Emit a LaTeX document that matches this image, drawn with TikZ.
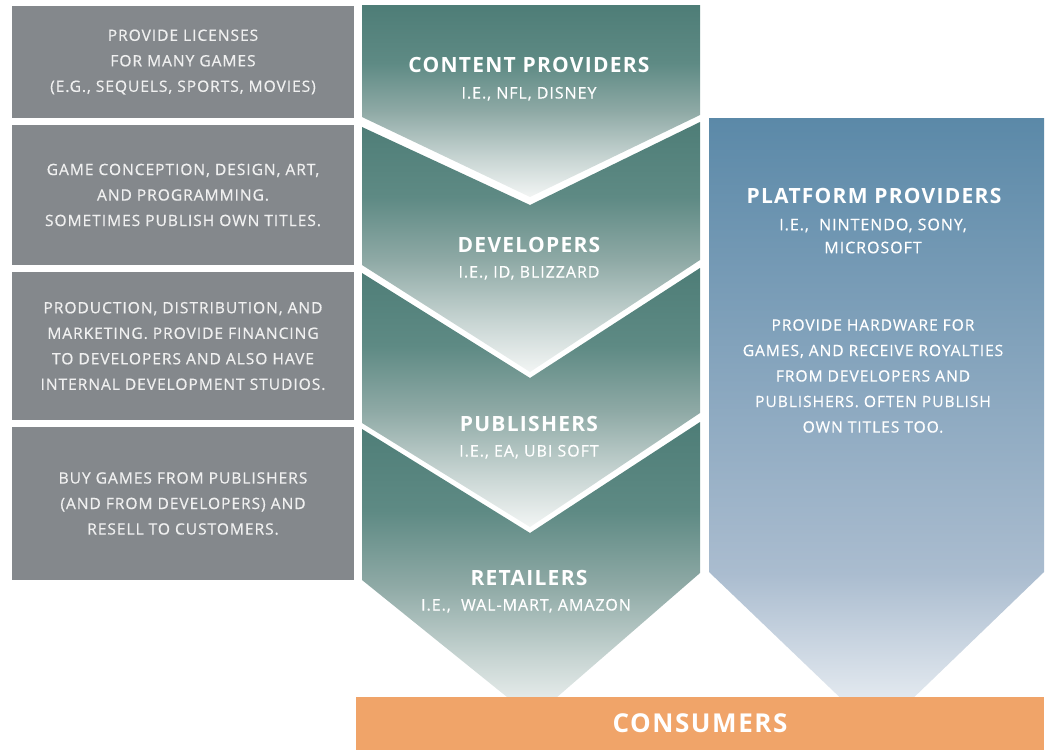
\documentclass[tikz,border=0pt]{standalone}
\usepackage{fontspec}
\setmainfont{Open Sans}
\newfontfamily\spacedfont[LetterSpace=6]{Open Sans}
\newfontfamily\mediumfont[LetterSpace=6,FakeBold=0.5]{Open Sans}

% colours
\definecolor{boxgray}{HTML}{84888C}
\definecolor{boxtext}{HTML}{F0F0F0}
\definecolor{tealD}{HTML}{4E7D77}
\definecolor{tealA}{HTML}{5E8A84}
\definecolor{tealM}{HTML}{8EA9A5}
\definecolor{tealB}{HTML}{C8D5D3}
\definecolor{tealL}{HTML}{F2F5F4}
\definecolor{blueD}{HTML}{5B89A8}
\definecolor{blueM}{HTML}{AABCCF}
\definecolor{blueL}{HTML}{F2F5F8}
\definecolor{orangeC}{HTML}{F0A469}

% vertical fades: 25bp = bottom of the shape, 75bp = top
\pgfdeclareverticalshading{tealfade}{100bp}{color(0bp)=(tealL); color(25bp)=(tealL); color(35bp)=(tealB); color(47.5bp)=(tealM); color(60bp)=(tealA); color(75bp)=(tealD); color(100bp)=(tealD)}
\pgfdeclareverticalshading{bluefade}{100bp}{color(0bp)=(blueL); color(25bp)=(blueL); color(38bp)=(blueM); color(75bp)=(blueD); color(100bp)=(blueD)}

\newcommand{\bodyfont}{\mediumfont\fontsize{15.6}{25.5}\selectfont}
\newcommand{\titlefont}{\spacedfont\bfseries\fontsize{21}{25}\selectfont}
\newcommand{\subfont}{\mediumfont\fontsize{16}{23}\selectfont}

\tikzset{
  sidebox/.style={fill=boxgray, text=boxtext, minimum width=342pt, inner sep=0pt, align=center, font=\bodyfont},
  stagetitle/.style={text=white, font=\titlefont, inner sep=0pt, text height=15pt, text depth=0pt},
  stagesub/.style={text=white, font=\subfont, inner sep=0pt, text height=11pt, text depth=0pt},
  multisub/.style={text=white, font=\subfont, inner sep=0pt, align=center},
  platbody/.style={text=white, font=\bodyfont, inner sep=0pt, align=center},
}

\begin{document}
\begin{tikzpicture}[x=1pt,y=-1pt]
\useasboundingbox (0,0) rectangle (1052,750);

% descriptions on the left
\node[sidebox, minimum height=112pt] (licenses) at (183,62)
  {PROVIDE LICENSES\\FOR MANY GAMES\\(E.G., SEQUELS, SPORTS, MOVIES)};
\node[sidebox, minimum height=140pt] (devdesc) at (183,195)
  {GAME CONCEPTION, DESIGN, ART,\\AND PROGRAMMING.\\SOMETIMES PUBLISH OWN TITLES.};
\node[sidebox, minimum height=148pt] (pubdesc) at (183,346)
  {PRODUCTION, DISTRIBUTION, AND\\MARKETING. PROVIDE FINANCING\\TO DEVELOPERS AND ALSO HAVE\\INTERNAL DEVELOPMENT STUDIOS.};
\node[sidebox, minimum height=153pt] (retdesc) at (183,503.5)
  {BUY GAMES FROM PUBLISHERS\\(AND FROM DEVELOPERS) AND\\RESELL TO CUSTOMERS.};

% value chain chevrons
\shade[shading=tealfade] (362,5) -- (700,5) -- (700,115) -- (530,197) -- (362,117) -- cycle;
\shade[shading=tealfade] (362,127) -- (530,205) -- (700,122) -- (700,260) -- (530,372) -- (362,265) -- cycle;
\shade[shading=tealfade] (362,273) -- (530,378) -- (700,268) -- (700,413) -- (530,527) -- (362,423) -- cycle;
\shade[shading=tealfade] (362,429) -- (530,533) -- (700,422) -- (700,573) -- (533,718) -- (362,580) -- cycle;

% platform column
\shade[shading=bluefade] (709,118) -- (1044,118) -- (1044,572) -- (877,733) -- (709,572) -- cycle;

% consumers bar
\node[fill=orangeC, minimum width=688pt, minimum height=53pt, inner sep=0pt,
      text=white, font=\spacedfont\bfseries\fontsize{26}{30}\selectfont] (consumers) at (700,723.5) {CONSUMERS};

% stage labels
\node[stagetitle] (cpT) at (529,65) {CONTENT PROVIDERS};
\node[stagesub] (cpS) at (529,93) {I.E., NFL, DISNEY};
\node[stagetitle] (devT) at (529,245) {DEVELOPERS};
\node[stagesub] (devS) at (529,272) {I.E., ID, BLIZZARD};
\node[stagetitle] (pubT) at (529,424) {PUBLISHERS};
\node[stagesub] (pubS) at (529,451) {I.E., EA, UBI SOFT};
\node[stagetitle] (retT) at (529,578) {RETAILERS};
\node[stagesub] (retS) at (526,605) {I.E.,\ \ WAL-MART, AMAZON};

% platform labels
\node[stagetitle] (platT) at (874,196) {PLATFORM PROVIDERS};
\node[multisub] (platS) at (873,236) {I.E.,\ \ NINTENDO, SONY,\\MICROSOFT};
\node[platbody] (platB) at (873,376)
  {PROVIDE HARDWARE FOR\\GAMES, AND RECEIVE ROYALTIES\\FROM DEVELOPERS AND\\PUBLISHERS. OFTEN PUBLISH\\OWN TITLES TOO.};
\end{tikzpicture}
\end{document}
